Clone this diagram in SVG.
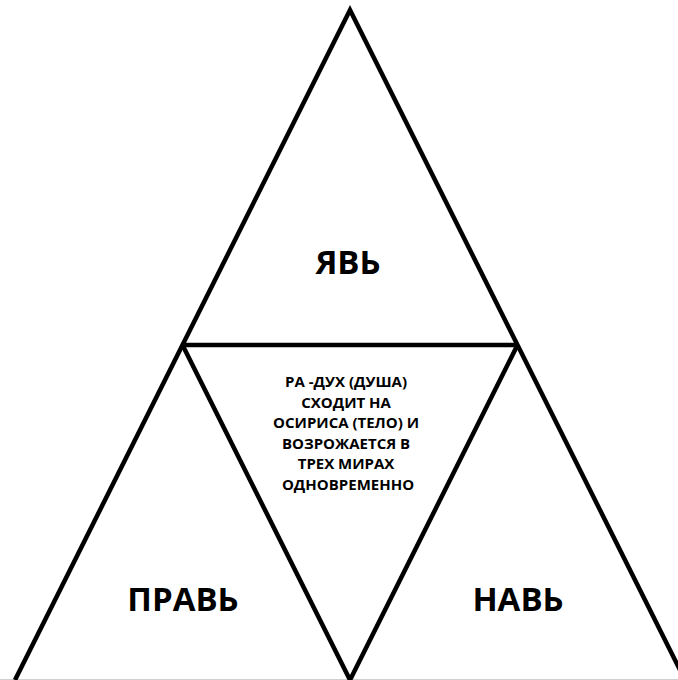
<svg xmlns="http://www.w3.org/2000/svg" width="678" height="680" viewBox="0 0 678 680">
<style>
.ln{stroke:#000;stroke-width:4.5;fill:none;stroke-linejoin:miter}
.big{font-family:"Open Sans","Liberation Sans",sans-serif;font-weight:bold;font-size:33px;fill:#000;text-anchor:middle}
.sm{font-family:"Open Sans","Liberation Sans",sans-serif;font-weight:bold;font-size:15px;fill:#000;text-anchor:middle}
</style>
<rect width="678" height="680" fill="#fff"/>
<g id="connectors">
<line x1="0" y1="679.5" x2="678" y2="679.5" stroke="#d0d0d0" stroke-width="1"/>
<polyline class="ln" points="15,680 350,10 685,680"/>
<line class="ln" x1="182.5" y1="345" x2="517.5" y2="345"/>
<polyline class="ln" points="182.5,345 350,680 517.5,345"/>
</g>
<g id="yav"><text class="big" x="348" y="274">ЯВЬ</text></g>
<g id="prav"><text class="big" x="183" y="611">ПРАВЬ</text></g>
<g id="nav"><text class="big" x="518" y="611">НАВЬ</text></g>
<g id="center">
<text class="sm" x="348" y="387">
<tspan x="348" y="387">РА -ДУХ (ДУША)</tspan>
<tspan x="348" y="407.5">СХОДИТ НА</tspan>
<tspan x="348" y="428">ОСИРИСА (ТЕЛО) И</tspan>
<tspan x="348" y="448.5">ВОЗРОЖАЕТСЯ В</tspan>
<tspan x="348" y="469">ТРЕХ МИРАХ</tspan>
<tspan x="348" y="489.5">ОДНОВРЕМЕННО</tspan>
</text>
</g>
</svg>
